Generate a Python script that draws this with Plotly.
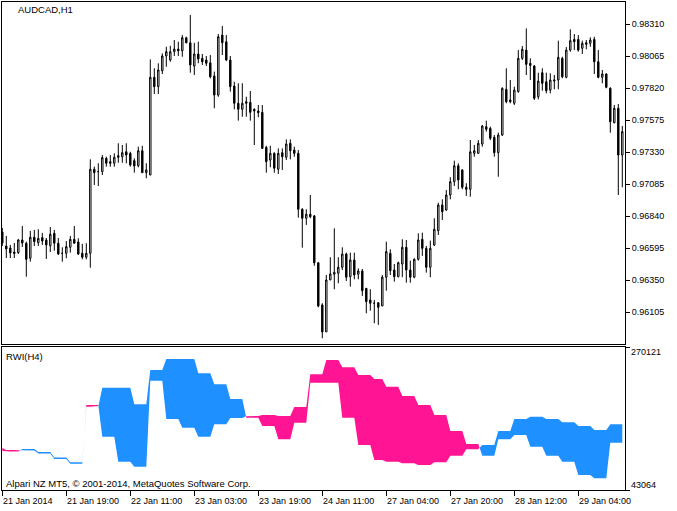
import plotly.graph_objects as go

# ---------------- price data (AUDCAD, H1) ----------------
bar_index = list(range(156))

price_open = [
    0.96719, 0.96612, 0.96597, 0.96566, 0.96561, 0.96658, 0.96633, 0.96518, 0.96679, 0.96637,
    0.96676, 0.96658, 0.96614, 0.96709, 0.96633, 0.96556, 0.96556, 0.96602, 0.96663, 0.96643,
    0.96556, 0.96526, 0.96556, 0.97199, 0.97181, 0.97181, 0.97283, 0.97257, 0.97245, 0.97303,
    0.97295, 0.97333, 0.97321, 0.97265, 0.97226, 0.97341, 0.97173, 0.97155, 0.97903, 0.97831,
    0.97953, 0.98066, 0.98035, 0.98099, 0.98119, 0.98106, 0.98206, 0.98167, 0.97989, 0.98081,
    0.98048, 0.98035, 0.98014, 0.97913, 0.97767, 0.98226, 0.98175, 0.98035, 0.97836, 0.97704,
    0.97658, 0.97716, 0.97711, 0.97658, 0.97645, 0.97635, 0.97367, 0.97270, 0.97321, 0.97199,
    0.97326, 0.97291, 0.97398, 0.97346, 0.97321, 0.96893, 0.96824, 0.96855, 0.96842, 0.96484,
    0.96161, 0.95955, 0.96352, 0.96396, 0.96403, 0.96449, 0.96551, 0.96377, 0.96505, 0.96396,
    0.96421, 0.96288, 0.96199, 0.96174, 0.96178, 0.96153, 0.96373, 0.96556, 0.96428, 0.96377,
    0.96474, 0.96602, 0.96428, 0.96373, 0.96510, 0.96663, 0.96594, 0.96449, 0.96620, 0.96729,
    0.96926, 0.96887, 0.97002, 0.97104, 0.97226, 0.97194, 0.97061, 0.97046, 0.97321, 0.97321,
    0.97392, 0.97525, 0.97512, 0.97444, 0.97326, 0.97461, 0.97811, 0.97729, 0.97704, 0.97793,
    0.98048, 0.98111, 0.98010, 0.97989, 0.97754, 0.97938, 0.97869, 0.97805, 0.97874, 0.97882,
    0.98048, 0.97903, 0.98111, 0.98193, 0.98193, 0.98125, 0.98167, 0.98163, 0.98193, 0.98022,
    0.97903, 0.97928, 0.97819, 0.97555, 0.97666, 0.97308,
]
price_high = [
    0.96750, 0.96689, 0.96620, 0.96635, 0.96666, 0.96765, 0.96645, 0.96727, 0.96735, 0.96740,
    0.96712, 0.96673, 0.96757, 0.96735, 0.96673, 0.96602, 0.96650, 0.96689, 0.96765, 0.96671,
    0.96628, 0.96633, 0.97275, 0.97219, 0.97245, 0.97308, 0.97295, 0.97308, 0.97321, 0.97398,
    0.97385, 0.97398, 0.97333, 0.97283, 0.97372, 0.97379, 0.97245, 0.98040, 0.97972, 0.98010,
    0.98086, 0.98137, 0.98144, 0.98188, 0.98175, 0.98226, 0.98213, 0.98379, 0.98167, 0.98175,
    0.98081, 0.98066, 0.98073, 0.97946, 0.98234, 0.98295, 0.98226, 0.98066, 0.97869, 0.97857,
    0.97857, 0.97754, 0.97798, 0.97666, 0.97691, 0.97691, 0.97379, 0.97379, 0.97329, 0.97359,
    0.97359, 0.97428, 0.97428, 0.97372, 0.97346, 0.96901, 0.96893, 0.97002, 0.96849, 0.96484,
    0.96174, 0.96390, 0.96526, 0.96747, 0.96526, 0.96602, 0.96561, 0.96561, 0.96561, 0.96441,
    0.96436, 0.96288, 0.96281, 0.96199, 0.96178, 0.96390, 0.96645, 0.96587, 0.96474, 0.96492,
    0.96663, 0.96658, 0.96500, 0.96518, 0.96709, 0.96714, 0.96612, 0.96653, 0.96824, 0.96943,
    0.96969, 0.97040, 0.97138, 0.97265, 0.97245, 0.97199, 0.97092, 0.97423, 0.97385, 0.97423,
    0.97538, 0.97571, 0.97525, 0.97461, 0.97479, 0.97826, 0.97972, 0.97882, 0.97831, 0.98111,
    0.98142, 0.98277, 0.98048, 0.97997, 0.97938, 0.97972, 0.97938, 0.97933, 0.97920, 0.98183,
    0.98060, 0.98134, 0.98270, 0.98234, 0.98226, 0.98183, 0.98188, 0.98209, 0.98213, 0.98111,
    0.97959, 0.97933, 0.97826, 0.97691, 0.97698, 0.97530,
]
price_low = [
    0.96612, 0.96520, 0.96520, 0.96520, 0.96551, 0.96604, 0.96377, 0.96492, 0.96612, 0.96612,
    0.96620, 0.96513, 0.96566, 0.96576, 0.96543, 0.96492, 0.96518, 0.96561, 0.96633, 0.96543,
    0.96510, 0.96510, 0.96446, 0.97079, 0.97071, 0.97155, 0.97219, 0.97219, 0.97219, 0.97249,
    0.97249, 0.97245, 0.97219, 0.97173, 0.97214, 0.97173, 0.97130, 0.97155, 0.97775, 0.97775,
    0.97928, 0.97984, 0.98022, 0.98066, 0.98066, 0.98060, 0.98163, 0.97938, 0.97920, 0.98010,
    0.97997, 0.97989, 0.97895, 0.97666, 0.97754, 0.98073, 0.98027, 0.97793, 0.97658, 0.97571,
    0.97601, 0.97601, 0.97571, 0.97385, 0.97597, 0.97354, 0.97173, 0.97214, 0.97173, 0.97163,
    0.97194, 0.97270, 0.97275, 0.97295, 0.96829, 0.96599, 0.96773, 0.96824, 0.96461, 0.96143,
    0.95906, 0.95955, 0.96352, 0.96281, 0.96327, 0.96428, 0.96344, 0.96301, 0.96357, 0.96357,
    0.96230, 0.96097, 0.96117, 0.96021, 0.96008, 0.96153, 0.96270, 0.96390, 0.96339, 0.96373,
    0.96373, 0.96331, 0.96331, 0.96365, 0.96500, 0.96536, 0.96408, 0.96373, 0.96612, 0.96696,
    0.96811, 0.96882, 0.96969, 0.97071, 0.97046, 0.97046, 0.96995, 0.96989, 0.97295, 0.97316,
    0.97372, 0.97487, 0.97423, 0.97295, 0.97142, 0.97454, 0.97704, 0.97704, 0.97691, 0.97785,
    0.98035, 0.97920, 0.97882, 0.97729, 0.97734, 0.97800, 0.97780, 0.97780, 0.97811, 0.97811,
    0.97895, 0.97895, 0.98099, 0.98111, 0.98099, 0.98081, 0.98117, 0.98137, 0.97928, 0.97895,
    0.97857, 0.97819, 0.97479, 0.97551, 0.97002, 0.97061,
]
price_close = [
    0.96635, 0.96589, 0.96559, 0.96555, 0.96658, 0.96635, 0.96510, 0.96679, 0.96645, 0.96671,
    0.96650, 0.96620, 0.96702, 0.96633, 0.96551, 0.96556, 0.96607, 0.96663, 0.96633, 0.96551,
    0.96526, 0.96556, 0.97199, 0.97173, 0.97181, 0.97288, 0.97245, 0.97245, 0.97291, 0.97291,
    0.97326, 0.97308, 0.97232, 0.97224, 0.97341, 0.97173, 0.97194, 0.97903, 0.97831, 0.97959,
    0.98066, 0.98099, 0.98099, 0.98119, 0.98106, 0.98206, 0.98167, 0.97997, 0.98081, 0.98043,
    0.98022, 0.98010, 0.97907, 0.97767, 0.98213, 0.98167, 0.98035, 0.97831, 0.97704, 0.97658,
    0.97704, 0.97704, 0.97635, 0.97645, 0.97632, 0.97359, 0.97257, 0.97321, 0.97207, 0.97321,
    0.97295, 0.97392, 0.97341, 0.97321, 0.96893, 0.96824, 0.96855, 0.96836, 0.96484, 0.96153,
    0.95955, 0.96352, 0.96398, 0.96411, 0.96449, 0.96551, 0.96373, 0.96505, 0.96390, 0.96421,
    0.96270, 0.96186, 0.96174, 0.96174, 0.96143, 0.96373, 0.96569, 0.96423, 0.96377, 0.96484,
    0.96602, 0.96428, 0.96373, 0.96510, 0.96658, 0.96594, 0.96449, 0.96594, 0.96740, 0.96926,
    0.96874, 0.97002, 0.97104, 0.97226, 0.97117, 0.97061, 0.97046, 0.97333, 0.97341, 0.97398,
    0.97530, 0.97505, 0.97436, 0.97326, 0.97461, 0.97819, 0.97716, 0.97716, 0.97805, 0.98048,
    0.98117, 0.98002, 0.97994, 0.97742, 0.97874, 0.97857, 0.97800, 0.97882, 0.97882, 0.98056,
    0.97907, 0.98111, 0.98183, 0.98175, 0.98111, 0.98163, 0.98155, 0.98188, 0.98022, 0.97903,
    0.97928, 0.97826, 0.97563, 0.97666, 0.97308, 0.97487,
]

price_tickvals = [0.98310, 0.98065, 0.97820, 0.97575, 0.97330, 0.97085, 0.96840, 0.96595, 0.96350, 0.96105]
price_range = [0.95862, 0.98479]

# ---------------- RWI(H4) indicator ----------------
# number of H1 bars covered by each H4 bar
h4_bars = [1] + [4] * 23 + [3] + [4] * 15
rwi_up_h4 = [
    104990, 104196, 108165, 103402, 94669, 87048, 175329, 205498, 205498, 179140,
    233602, 251067, 251067, 228362, 210896, 187555, 157864, 144685, 123567, 149925,
    213437, 213437, 157864, 114517, 90700, 88000, 85460, 82761, 87048, 97527,
    107689, 114517, 136746, 155799, 159451, 155799, 150560, 144685, 138334, 147384,
]
rwi_dn_h4 = [
    109753, 106578, 105784, 101020, 92287, 84666, 178029, 127695, 88000, 80061,
    216612, 155799, 141986, 127695, 147384, 157387, 160563, 162151, 160563, 174853,
    226774, 249480, 237889, 225663, 219311, 207085, 192319, 178029, 162151, 136746,
    116104, 97527, 123567, 130395, 111817, 97527, 88000, 66883, 61643, 118169,
]
rwi_range = [43064, 270121]

time_tick_bars = [0, 16, 32, 48, 64, 80, 96, 112, 128, 144]
time_tick_text = ['21 Jan 2014', '21 Jan 19:00', '22 Jan 11:00', '23 Jan 03:00', '23 Jan 19:00',
                  '24 Jan 11:00', '27 Jan 04:00', '27 Jan 20:00', '28 Jan 12:00', '29 Jan 04:00']

BLUE = '#1E90FF'
PINK = '#FF1493'
FONT = 'Liberation Sans, Arial, sans-serif'

# expand H4 values onto the H1 bars
rwi_up, rwi_dn = [], []
for n, u, d in zip(h4_bars, rwi_up_h4, rwi_dn_h4):
    rwi_up += [u] * n
    rwi_dn += [d] * n

# split filling into same-colour runs (with crossing points)
runs = []
cur = None
for i in bar_index:
    s = rwi_up[i] > rwi_dn[i]
    if cur is None:
        cur = {'s': s, 'x': [i], 'a': [rwi_up[i]], 'b': [rwi_dn[i]]}
    elif s == cur['s']:
        cur['x'].append(i); cur['a'].append(rwi_up[i]); cur['b'].append(rwi_dn[i])
    else:
        d0 = rwi_up[i - 1] - rwi_dn[i - 1]
        d1 = rwi_up[i] - rwi_dn[i]
        t = d0 / (d0 - d1)
        xc = i - 1 + t
        yc = rwi_up[i - 1] + t * (rwi_up[i] - rwi_up[i - 1])
        cur['x'].append(xc); cur['a'].append(yc); cur['b'].append(yc)
        runs.append(cur)
        cur = {'s': s, 'x': [xc, i], 'a': [yc, rwi_up[i]], 'b': [yc, rwi_dn[i]]}
runs.append(cur)

fig = go.Figure()

fig.add_trace(go.Candlestick(
    x=bar_index, open=price_open, high=price_high, low=price_low, close=price_close,
    increasing=dict(fillcolor='white', line=dict(color='black', width=1)),
    decreasing=dict(fillcolor='black', line=dict(color='black', width=1)),
    whiskerwidth=0, xaxis='x', yaxis='y', showlegend=False, hoverinfo='skip',
))

for r in runs:
    col = BLUE if r['s'] else PINK
    fig.add_trace(go.Scatter(
        x=r['x'] + r['x'][::-1], y=r['a'] + r['b'][::-1],
        fill='toself', fillcolor=col, mode='lines', line=dict(color=col, width=0),
        xaxis='x2', yaxis='y2', showlegend=False, hoverinfo='skip',
    ))

L, R, T, B = 2, 52, 2, 21
W, H = 677, 511
ph = H - T - B
pw = W - L - R
main_bottom_px = 344
ind_top_px = 347
xr = [-0.075, 155.675]

axis_common = dict(showgrid=False, zeroline=False, showline=True, mirror=True,
                   linecolor='black', linewidth=1)

fig.update_layout(
    width=W, height=H,
    margin=dict(l=L, r=R, t=T, b=B, pad=0),
    paper_bgcolor='white', plot_bgcolor='white',
    boxgap=0.5,
    xaxis=dict(domain=[0, 1], range=xr, anchor='y', ticks='', showticklabels=False,
               rangeslider=dict(visible=False), **axis_common),
    yaxis=dict(domain=[(H - B - main_bottom_px) / ph, 1], range=price_range, side='right', anchor='x',
               tickvals=price_tickvals, ticktext=['%.5f' % v for v in price_tickvals],
               ticks='outside', ticklen=4, tickcolor='black',
               tickfont=dict(family=FONT, size=9, color='black'), **axis_common),
    xaxis2=dict(domain=[0, 1], range=xr, anchor='y2', tickvals=time_tick_bars,
                ticks='outside', ticklen=5, tickcolor='black', showticklabels=False, **axis_common),
    yaxis2=dict(domain=[0, (H - B - ind_top_px) / ph], range=rwi_range, side='right', anchor='x2',
                tickvals=rwi_range, ticks='outside', ticklen=4, tickcolor='black',
                showticklabels=False, **axis_common),
    font=dict(family=FONT, size=9, color='black'),
)

def px_x(x):
    return (x - L) / pw

def px_y(y):
    return (H - B - y) / ph

ann = [
    dict(text='AUDCAD,H1', x=px_x(17), y=px_y(9.5), xanchor='left', yanchor='middle', size=9.5),
    dict(text='RWI(H4)', x=px_x(5), y=px_y(356), xanchor='left', yanchor='middle', size=9.5),
    dict(text='Alpari NZ MT5, © 2001-2014, MetaQuotes Software Corp.', x=px_x(5), y=px_y(483),
         xanchor='left', yanchor='middle', size=9.5),
    dict(text=str(rwi_range[1]), x=px_x(630), y=px_y(352), xanchor='left', yanchor='middle', size=9),
    dict(text=str(rwi_range[0]), x=px_x(630), y=px_y(485.3), xanchor='left', yanchor='middle', size=9),
]
annotations = []
for a in ann:
    annotations.append(dict(text=a['text'], x=a['x'], y=a['y'], xref='paper', yref='paper',
                            xanchor=a['xanchor'], yanchor=a['yanchor'], showarrow=False,
                            font=dict(family=FONT, size=a['size'], color='black'), xshift=-1))
for b, t in zip(time_tick_bars, time_tick_text):
    annotations.append(dict(text=t, x=b, y=px_y(501), xref='x2', yref='paper',
                            xanchor='left', yanchor='middle', showarrow=False, xshift=-1,
                            font=dict(family=FONT, size=9, color='black')))
fig.update_layout(annotations=annotations)

fig.write_html('out.html', config={'displayModeBar': False},
               post_script="document.body.style.margin='0';document.body.style.padding='0';")
